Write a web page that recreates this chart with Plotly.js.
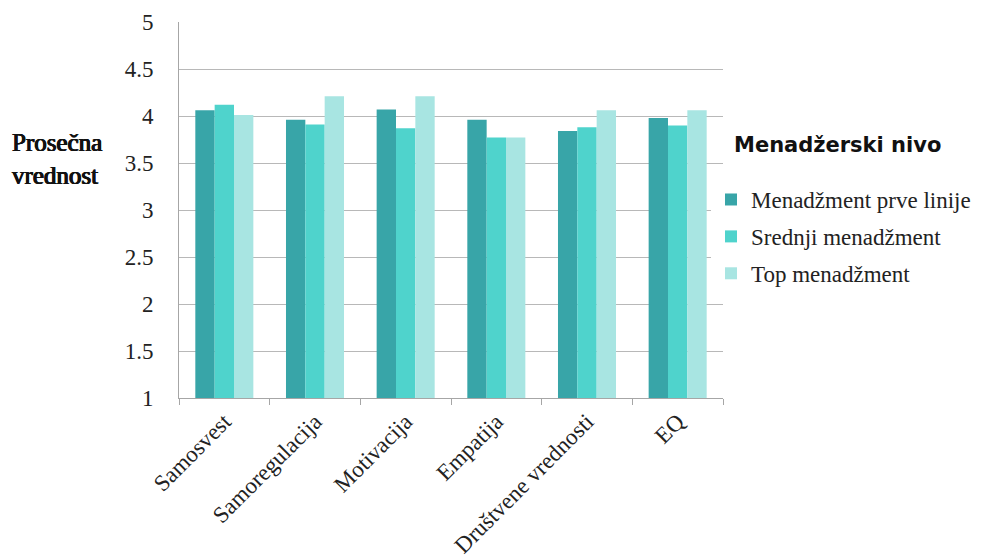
<!DOCTYPE html>
<html>
<head>
<meta charset="utf-8">
<script src="https://cdn.plot.ly/plotly-3.0.1.min.js"></script>
<style>html,body{margin:0;padding:0;background:#fff;}#chart{width:982px;height:560px;}</style>
</head>
<body>
<div id="chart"></div>
<script>
const categories = ["Samosvest", "Samoregulacija", "Motivacija", "Empatija", "Društvene vrednosti", "EQ"];
const seriesNames = ["Menadžment prve linije", "Srednji menadžment", "Top menadžment"];
const prvaLinija = [4.06, 3.96, 4.07, 3.96, 3.84, 3.98];
const srednji = [4.12, 3.91, 3.87, 3.77, 3.88, 3.90];
const topMenadzment = [4.01, 4.21, 4.21, 3.77, 4.06, 4.06];
const yTicks = [1, 1.5, 2, 2.5, 3, 3.5, 4, 4.5, 5];
const yTickText = ["1", "1.5", "2", "2.5", "3", "3.5", "4", "4.5", "5"];
const legendTitle = "Menadžerski nivo";
const yTitle = "Prosečna<br>vrednost";
const colors = ["#38a5a8", "#4fd3cc", "#a8e5e2"];

const allSeries = [prvaLinija, srednji, topMenadzment];
const traces = allSeries.map((vals, i) => ({
  type: "bar",
  name: seriesNames[i],
  x: categories,
  y: vals,
  base: 0,
  marker: {color: colors[i], line: {width: 0}},
  legendgroup: "g" + i,
  hoverinfo: "x+y+name"
}));

const serif = "Liberation Serif, Times New Roman, serif";
const layout = {
  width: 982, height: 560,
  margin: {l: 179, r: 259, t: 22, b: 162, autoexpand: false},
  paper_bgcolor: "#ffffff",
  plot_bgcolor: "#ffffff",
  barmode: "group",
  bargap: 0.36,
  bargroupgap: 0,
  showlegend: true,
  legend: {
    x: 1.0 + (711 - 723) / 544, xanchor: "left",
    y: 0.585, yanchor: "top",
    font: {family: serif, size: 23, color: "#222"},
    tracegroupgap: 4,
    itemwidth: 30
  },
  xaxis: {
    type: "category",
    tickangle: -45,
    tickfont: {family: serif, size: 23, color: "#222"},
    showline: true, linecolor: "#a6a6a6", linewidth: 1,
    ticks: "outside", tickson: "boundaries", ticklen: 6, tickcolor: "#a6a6a6",
    showgrid: false
  },
  yaxis: {
    range: [1, 5],
    tickvals: yTicks, ticktext: yTickText,
    tickfont: {family: serif, size: 23, color: "#222"},
    showline: true, linecolor: "#a6a6a6", linewidth: 1,
    ticks: "outside", ticklen: 20, tickcolor: "rgba(0,0,0,0)",
    showgrid: true, gridcolor: "#b8b8b8", gridwidth: 1,
    zeroline: false
  },
  yaxis2: {
    overlaying: "y", side: "left", anchor: "x",
    range: [1, 5],
    tickvals: yTicks, showticklabels: false,
    ticks: "outside", ticklen: 7, tickcolor: "#a6a6a6",
    showgrid: false, showline: false, zeroline: false
  },
  annotations: [{
    text: yTitle,
    xref: "paper", yref: "paper",
    x: -0.31, y: 0.636, xanchor: "left", yanchor: "middle",
    align: "left", showarrow: false,
    font: {family: serif, size: 25, color: "#111",
           shadow: "0.6px 0 0 #111, -0.6px 0 0 #111, 0 0.4px 0 #111"}
  }, {
    text: "<b>" + legendTitle + "</b>",
    xref: "paper", yref: "paper",
    x: 1.017, y: 0.672, xanchor: "left", yanchor: "middle",
    align: "left", showarrow: false,
    font: {family: "DejaVu Sans, Arial, sans-serif", size: 21, color: "#111"}
  }]
};

Plotly.newPlot("chart", traces, layout, {displayModeBar: false, staticPlot: true});
</script>
</body>
</html>
